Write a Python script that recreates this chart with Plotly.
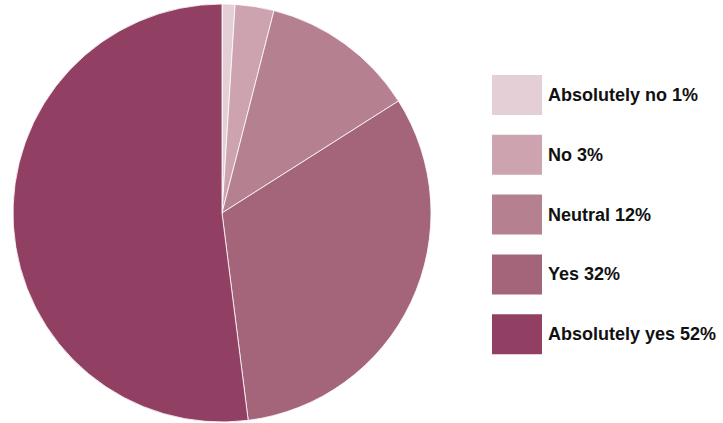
import plotly.graph_objects as go

# Survey answers, in clockwise order from 12 o'clock
labels = ["Absolutely no", "No", "Neutral", "Yes", "Absolutely yes"]
values = [1, 3, 12, 32, 52]
colors = ["#e3cfd5", "#cca3ae", "#b5808f", "#a46479", "#923f64"]

W, H = 723, 423

fig = go.Figure(
    go.Pie(
        labels=labels,
        values=values,
        sort=False,
        direction="clockwise",
        rotation=0,
        textinfo="none",
        marker=dict(colors=colors, line=dict(color="rgba(255,255,255,0.8)", width=1)),
        domain=dict(x=[13 / W, 431 / W], y=[1 / H, 419 / H]),
        showlegend=False,
    )
)

# Custom legend: large swatches with bold labels carrying the share
shapes, annotations = [], []
sw_x0, sw_w, sw_h, top0, step = 492, 50, 40, 75, 59.8
for i, (lab, val, col) in enumerate(zip(labels, values, colors)):
    y0 = top0 + i * step
    shapes.append(dict(
        type="rect", xref="paper", yref="paper",
        x0=sw_x0 / W, x1=(sw_x0 + sw_w) / W,
        y0=1 - (y0 + sw_h) / H, y1=1 - y0 / H,
        fillcolor=col, line=dict(width=0),
    ))
    annotations.append(dict(
        xref="paper", yref="paper", x=546 / W, y=1 - (y0 + sw_h / 2) / H,
        xanchor="left", yanchor="middle", showarrow=False,
        text=f"<b>{lab} {val}%</b>",
        font=dict(family="Liberation Sans, Arial, sans-serif", size=18, color="#111111"),
    ))

fig.update_layout(
    width=W, height=H,
    margin=dict(l=0, r=0, t=0, b=0),
    paper_bgcolor="white", plot_bgcolor="white",
    shapes=shapes, annotations=annotations,
)

fig.write_html("out.html")
